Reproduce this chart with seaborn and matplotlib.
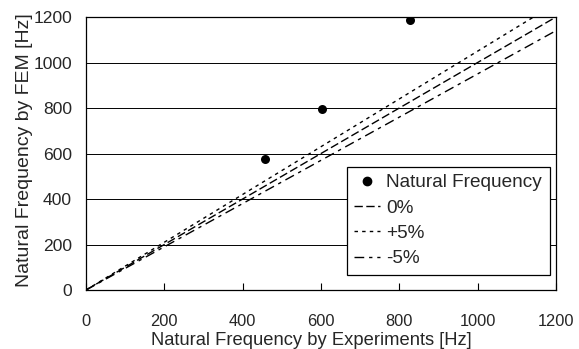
import matplotlib
matplotlib.use("Agg")
import matplotlib.pyplot as plt
import seaborn as sns
from matplotlib.lines import Line2D

# Data
exp_freq = [457, 603, 827]
fem_freq = [578, 796, 1186]
line_x = [0, 1200]
factors = {"0%": 1.00, "+5%": 1.05, "-5%": 0.95}
x_ticks = [0, 200, 400, 600, 800, 1000, 1200]
y_ticks = [0, 200, 400, 600, 800, 1000, 1200]

sns.set_style("white")
plt.rcParams['font.family'] = ['Liberation Sans', 'DejaVu Sans']

fig = plt.figure(figsize=(5.79, 3.49), dpi=100)
ax = fig.add_axes([0.1485, 0.169, 0.8115, 0.782])

styles = {"0%": (0, (6, 2.5)), "+5%": (0, (2.5, 3)), "-5%": (0, (7, 3.5, 2.4, 3.5))}
handles = []
sns.scatterplot(x=exp_freq, y=fem_freq, ax=ax, color="black", s=42,
                edgecolor="black", linewidth=0, zorder=5)
handles.append(Line2D([], [], marker="o", color="black", linestyle="none",
                      markersize=6, label="Natural Frequency"))
for name, f in factors.items():
    ys = [v * f for v in line_x]
    sns.lineplot(x=line_x, y=ys, ax=ax, color="black", linewidth=1.0,
                 linestyle=styles[name], zorder=3)
    handles.append(Line2D([], [], color="black", linewidth=1.0,
                          linestyle=styles[name], label=name))

ax.set_xlim(0, 1200)
ax.set_ylim(0, 1200)
ax.set_xticks(x_ticks)
ax.set_yticks(y_ticks)
ax.set_xticklabels([str(t) for t in x_ticks], fontsize=11.8)
ax.set_yticklabels([str(t) for t in y_ticks], fontsize=12.6)
ax.yaxis.grid(True, color="black", linewidth=0.7)
ax.xaxis.grid(False)
ax.tick_params(axis="x", direction="in", length=5, width=0.8, color="black",
               pad=17, bottom=True)
ax.tick_params(axis="y", length=0, pad=10)
for sp in ax.spines.values():
    sp.set_color("black")
    sp.set_linewidth(0.9)

ax.set_xlabel("Natural Frequency by Experiments [Hz]", fontsize=13.2)
ax.set_ylabel("Natural Frequency by FEM [Hz]", fontsize=14)
ax.xaxis.set_label_coords(0.479, -0.152)
ax.yaxis.set_label_coords(-0.113, 0.513)

leg = ax.legend(handles=handles, loc="lower right", bbox_to_anchor=(0.987, 0.055),
                fontsize=13.7, frameon=True, fancybox=False, framealpha=1,
                edgecolor="black", handlelength=1.35, handletextpad=0.33,
                labelspacing=0.42, borderpad=0.4, borderaxespad=0)
leg.get_frame().set_linewidth(0.9)
leg.set_zorder(10)

fig.savefig("out.png", dpi=100)
